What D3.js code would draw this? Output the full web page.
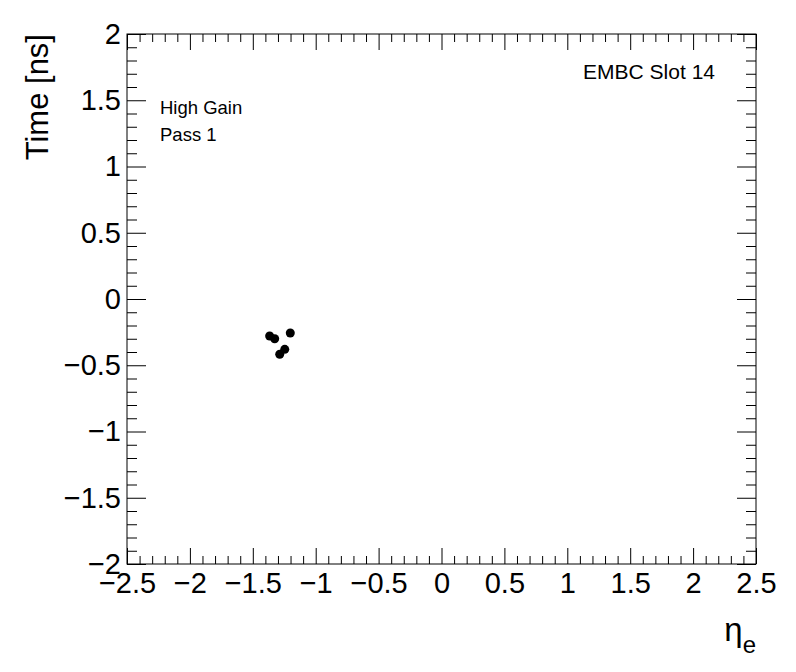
<!DOCTYPE html>
<html>
<head>
  <title>EMBC Slot 14 timing</title>
  <script src="https://d3js.org/d3.v7.min.js"></script>
  <style>
    body { margin: 0; background: #fff; }
    svg text { font-family: "Liberation Sans", Arial, Helvetica, sans-serif; fill: #000; }
  </style>
</head>
<body>
  <svg id="chart"></svg>
  <script>
    // data (eta, time in ns)
    const etaValues  = [-1.366, -1.326, -1.202, -1.286, -1.246];
    const timeValues = [-0.279, -0.300, -0.257, -0.417, -0.380];
    const xMajorTicks = [-2.5, -2, -1.5, -1, -0.5, 0, 0.5, 1, 1.5, 2, 2.5];
    const yMajorTicks = [-2, -1.5, -1, -0.5, 0, 0.5, 1, 1.5, 2];

    const W = 796, H = 672;
    const margin = {top: 34, right: 40, bottom: 108, left: 127};

    const svg = d3.select("#chart")
      .attr("width", W)
      .attr("height", H);

    const xScale = d3.scaleLinear()
      .domain([-2.5, 2.5])
      .range([margin.left, W - margin.right]);

    const yScale = d3.scaleLinear()
      .domain([-2, 2])
      .range([H - margin.bottom, margin.top]);

    const fmt = d => String(d).replace("-", "\u2212");

    // minor ticks every 0.1
    const xMinor = d3.range(-25, 26).map(v => v / 10).filter(v => !xMajorTicks.some(m => Math.abs(m - v) < 1e-9));
    const yMinor = d3.range(-20, 21).map(v => v / 10).filter(v => !yMajorTicks.some(m => Math.abs(m - v) < 1e-9));

    const x0 = xScale.range()[0], x1 = xScale.range()[1];
    const y0 = yScale.range()[0], y1 = yScale.range()[1];

    function styleAxis(g) {
      g.select(".domain").remove();
      g.selectAll("line").attr("stroke", "#000").attr("stroke-width", 1);
    }

    // bottom axis
    svg.append("g")
      .attr("transform", `translate(0,${y0})`)
      .call(d3.axisBottom(xScale).tickValues(xMajorTicks).tickSize(-16).tickPadding(8).tickFormat(fmt))
      .call(styleAxis)
      .selectAll("text")
      .style("font-size", "29px");

    svg.append("g")
      .attr("transform", `translate(0,${y0})`)
      .call(d3.axisBottom(xScale).tickValues(xMinor).tickSize(-8).tickFormat(""))
      .call(styleAxis);

    // top ticks
    svg.append("g")
      .attr("transform", `translate(0,${y1})`)
      .call(d3.axisTop(xScale).tickValues(xMajorTicks).tickSize(-16).tickFormat(""))
      .call(styleAxis);
    svg.append("g")
      .attr("transform", `translate(0,${y1})`)
      .call(d3.axisTop(xScale).tickValues(xMinor).tickSize(-8).tickFormat(""))
      .call(styleAxis);

    // left axis
    svg.append("g")
      .attr("transform", `translate(${x0},0)`)
      .call(d3.axisLeft(yScale).tickValues(yMajorTicks).tickSize(-19).tickPadding(6).tickFormat(fmt))
      .call(styleAxis)
      .selectAll("text")
      .style("font-size", "29px");

    svg.append("g")
      .attr("transform", `translate(${x0},0)`)
      .call(d3.axisLeft(yScale).tickValues(yMinor).tickSize(-10).tickFormat(""))
      .call(styleAxis);

    // right ticks
    svg.append("g")
      .attr("transform", `translate(${x1},0)`)
      .call(d3.axisRight(yScale).tickValues(yMajorTicks).tickSize(-19).tickFormat(""))
      .call(styleAxis);
    svg.append("g")
      .attr("transform", `translate(${x1},0)`)
      .call(d3.axisRight(yScale).tickValues(yMinor).tickSize(-10).tickFormat(""))
      .call(styleAxis);

    // frame
    svg.append("rect")
      .attr("x", x0)
      .attr("y", y1)
      .attr("width", x1 - x0)
      .attr("height", y0 - y1)
      .attr("fill", "none")
      .attr("stroke", "#000")
      .attr("stroke-width", 1);

    // points
    svg.selectAll("circle.pt")
      .data(etaValues)
      .enter()
      .append("circle")
      .attr("class", "pt")
      .attr("cx", d => xScale(d))
      .attr("cy", (d, i) => yScale(timeValues[i]))
      .attr("r", 4.5)
      .attr("fill", "#000");

    // axis titles
    svg.append("text")
      .attr("transform", `translate(48,${y1}) rotate(-90)`)
      .attr("text-anchor", "end")
      .style("font-size", "31px")
      .text("Time [ns]");

    const xt = svg.append("text")
      .attr("x", x1)
      .attr("y", 641)
      .attr("text-anchor", "end")
      .style("font-size", "33px");
    xt.append("tspan").text("\u03b7");
    xt.append("tspan").attr("dy", 12).style("font-size", "24px").text("e");

    // labels
    svg.append("text")
      .attr("x", 715)
      .attr("y", 79)
      .attr("text-anchor", "end")
      .style("font-size", "21px")
      .text("EMBC Slot 14");

    svg.append("text")
      .attr("x", 160)
      .attr("y", 114)
      .style("font-size", "18.5px")
      .text("High Gain");

    svg.append("text")
      .attr("x", 160)
      .attr("y", 141)
      .style("font-size", "18.5px")
      .text("Pass 1");
  </script>
</body>
</html>
